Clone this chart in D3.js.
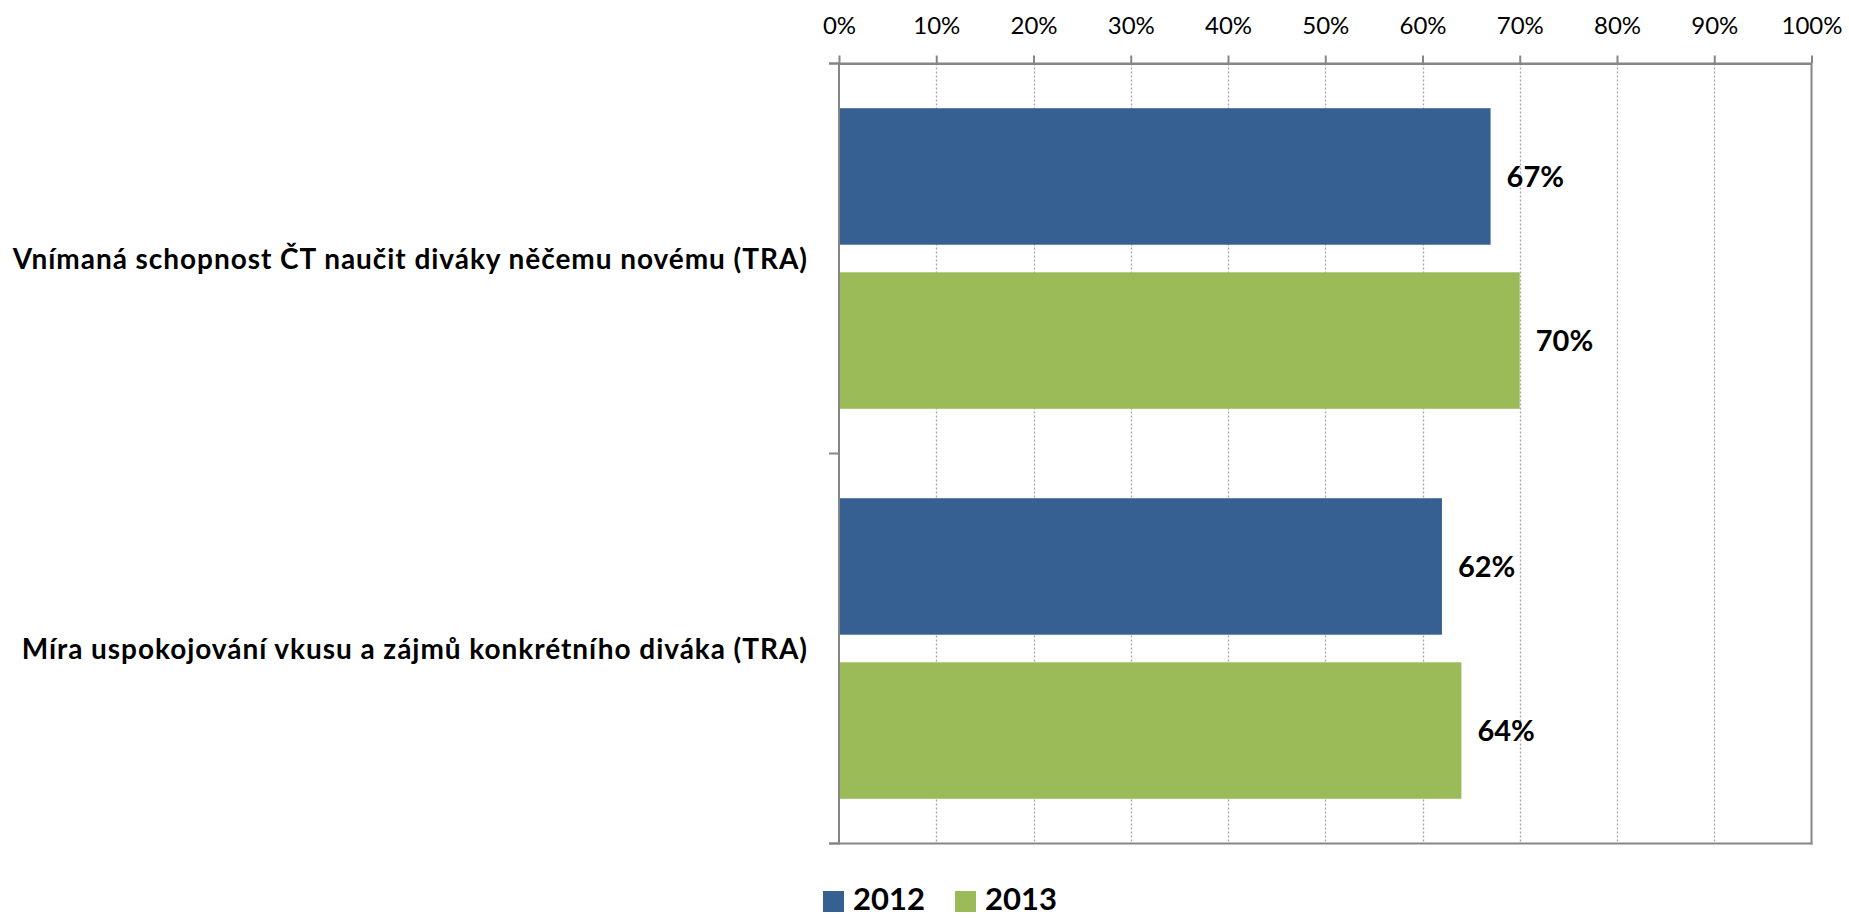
<!DOCTYPE html>
<html>
<head>
<meta charset="utf-8">
<script src="https://cdn.jsdelivr.net/npm/d3@7"></script>
<style>
  html, body { margin: 0; padding: 0; background: #fff; }
  svg { display: block; font-family: Lato, "Open Sans", sans-serif; }
</style>
</head>
<body>
<svg id="chart" width="1849" height="918"></svg>
<script>
const categories = [
  "Vnímaná schopnost ČT naučit diváky něčemu novému (TRA)",
  "Míra uspokojování vkusu a zájmů konkrétního diváka (TRA)"
];
const seriesNames = ["2012", "2013"];
const values2012 = [0.67, 0.62];
const values2013 = [0.70, 0.64];
const tickValues = [0, 0.1, 0.2, 0.3, 0.4, 0.5, 0.6, 0.7, 0.8, 0.9, 1.0];
const colors = ["#376092", "#9BBB59"];

(function () {
const svg = d3.select("#chart");
const pLeft = 839, pRight = 1811.5, pTop = 63.5, pBottom = 843.5;
const axisColor = "#868686";

const x = d3.scaleLinear().domain([0, 1]).range([pLeft, pRight]);
const y = d3.scaleBand().domain(categories).range([pTop, pBottom]).padding(0);
const ySeries = d3.scaleBand().domain(seriesNames).range([0, y.bandwidth()])
  .paddingInner(0.168).paddingOuter(0.2725);

const seriesValues = [values2012, values2013];
const rows = [];
categories.forEach((c, i) => {
  seriesNames.forEach((s, j) => rows.push({ cat: c, series: s, value: seriesValues[j][i], color: colors[j] }));
});

// gridlines
svg.append("g").selectAll("line")
  .data(tickValues.filter(t => t > 0 && t < 1))
  .join("line")
  .attr("x1", d => Math.round(x(d)) + 0.5).attr("x2", d => Math.round(x(d)) + 0.5)
  .attr("y1", pTop).attr("y2", pBottom)
  .attr("stroke", "#a6a6a6").attr("stroke-width", 1.3)
  .attr("stroke-dasharray", "2,2");

// bars
svg.append("g").selectAll("rect")
  .data(rows)
  .join("rect")
  .attr("x", x(0))
  .attr("y", d => y(d.cat) + ySeries(d.series))
  .attr("width", d => x(d.value) - x(0))
  .attr("height", ySeries.bandwidth())
  .attr("fill", d => d.color);

// value labels
svg.append("g").selectAll("text")
  .data(rows)
  .join("text")
  .attr("x", d => x(d.value) + 16)
  .attr("y", d => y(d.cat) + ySeries(d.series) + ySeries.bandwidth() / 2)
  .attr("dy", "0.36em")
  .attr("font-size", 29).attr("font-weight", 700).attr("fill", "#000")
  .text(d => d3.format(".0%")(d.value));

// top axis
const xAxis = d3.axisTop(x).tickValues(tickValues).tickFormat(d3.format(".0%"))
  .tickSize(8).tickSizeOuter(0).tickPadding(22);
const gx = svg.append("g").attr("transform", `translate(0,${pTop})`).call(xAxis);
gx.select(".domain").attr("stroke", axisColor).attr("stroke-width", 2);
gx.selectAll(".tick line").attr("stroke", axisColor).attr("stroke-width", 2);
gx.selectAll(".tick text").attr("font-size", 24).attr("fill", "#000")
  .attr("font-family", "Lato, 'Open Sans', sans-serif");

// frame: left axis, bottom line, right border
const frame = svg.append("g").attr("stroke", axisColor).attr("stroke-width", 2);
frame.append("line").attr("x1", x(0)).attr("x2", x(0)).attr("y1", pTop - 1).attr("y2", pBottom + 1);
frame.append("line").attr("x1", x(0) - 10).attr("x2", x(1)).attr("y1", pTop).attr("y2", pTop);
frame.append("line").attr("x1", x(0) - 10).attr("x2", x(1) + 1).attr("y1", pBottom).attr("y2", pBottom);
frame.append("line").attr("x1", x(1)).attr("x2", x(1)).attr("y1", pTop).attr("y2", pBottom + 1);
const boundaries = categories.map(c => y(c)).concat([y(categories[categories.length - 1]) + y.bandwidth()]);
frame.selectAll("line.tk").data(boundaries).join("line").attr("class", "tk")
  .attr("x1", x(0) - 10).attr("x2", x(0)).attr("y1", d => d).attr("y2", d => d);

// category labels
svg.append("g").selectAll("text")
  .data(categories)
  .join("text")
  .attr("x", 808)
  .attr("y", d => y(d) + y.bandwidth() / 2)
  .attr("dy", "0.36em")
  .attr("text-anchor", "end")
  .attr("font-size", 28).attr("font-weight", 700).attr("fill", "#000")
  .attr("letter-spacing", "0.95px")
  .text(d => d);

// legend
const legend = svg.append("g");
const legendX = [823, 955];
seriesNames.forEach((s, i) => {
  const g = legend.append("g").attr("transform", `translate(${legendX[i]},891)`);
  g.append("rect").attr("width", 21).attr("height", 21).attr("fill", colors[i]);
  g.append("text").attr("x", 30).attr("y", 19)
    .attr("font-size", 31).attr("font-weight", 700).attr("fill", "#000").text(s);
});
})();
</script>
</body>
</html>
